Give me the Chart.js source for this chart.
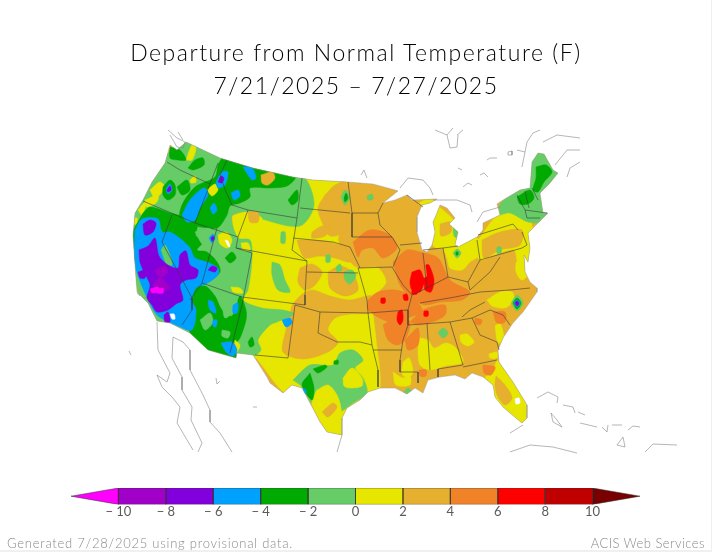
<!DOCTYPE html>
<html>
<head>
<title>Departure from Normal Temperature</title>
<script src="https://cdn.jsdelivr.net/npm/chart.js"></script>
<style>
body { margin: 0; background: #f0f0f0; }
#page { position: relative; width: 711px; height: 550px; background: #fff; overflow: hidden; }
#mapChart, #barChart { position: absolute; left: 0; }
#mapChart { top: 0; }
#barChart { top: 480px; }
.txt { position: absolute; white-space: nowrap; font-family: "Lato", sans-serif; }
#title { left: 0; width: 712px; top: 36px; text-align: center; color: #000; font-size: 23px; line-height: 33px; font-weight: 300; letter-spacing: 1.55px; }
#gen { left: 7px; top: 535px; color: #8a8a8a; font-size: 13px; letter-spacing: 0.75px; font-weight: 300; }
#acis { right: 6px; top: 535px; color: #8a8a8a; font-size: 13px; letter-spacing: 0.45px; font-weight: 300; }
</style>
</head>
<body>
<div id="page">
  <canvas id="mapChart" width="712" height="552"></canvas>
  <canvas id="barChart" width="712" height="40"></canvas>
  <div id="title" class="txt">Departure from Normal Temperature (F)<br>7/21/2025 &#8211; 7/27/2025</div>
  <div id="gen" class="txt">Generated 7/28/2025 using provisional data.</div>
  <div id="acis" class="txt">ACIS Web Services</div>
</div>
<script>
// colour bar
const barEdges = [-12, -10, -8, -6, -4, -2, 0, 2, 4, 6, 8, 10, 12];
const barColors = ['#ff00ff', '#a000c8', '#8200dc', '#00a0ff', '#00aa00', '#66cc66', '#e6e600', '#e6af2d', '#f08228', '#ff0000', '#c00000', '#780000'];

// map shapes, x y pairs
const usOutline = [186,142, 220,158, 253,168, 293,177, 313,180, 348,182, 373,184, 395,190, 398,191, 383,203, 395,200, 407,195, 412,200, 437,199, 430,203, 422,205, 417,217, 417,232, 422,250, 427,252, 432,245, 435,232, 433,222, 437,213, 440,205, 447,208, 455,218, 449,224, 458,232, 455,245, 458,247, 477,237, 483,230, 483,223, 500,215, 497,204, 503,200, 520,190, 530,188, 532,162, 538,153, 544,154, 553,170, 558,173, 550,183, 540,193, 543,213, 548,213, 543,218, 528,233, 530,248, 528,262, 524,255, 525,272, 530,282, 537,288, 537,292, 530,302, 523,312, 513,323, 503,338, 498,350, 499,362, 513,382, 527,405, 527,418, 522,423, 510,413, 503,407, 495,397, 493,385, 483,377, 472,373, 465,379, 455,375, 440,377, 428,380, 423,393, 415,388, 407,394, 395,388, 380,388, 368,392, 360,400, 347,408, 342,418, 342,435, 327,432, 320,422, 310,403, 302,388, 292,385, 283,393, 270,383, 267,377, 253,355, 237,353, 236,358, 208,350, 190,333, 170,323, 157,321, 148,303, 137,292, 135,265, 133,235, 135,213, 143,200, 152,182, 165,163, 170,145, 177,150];

const yellowMain = [232,216, 247,212, 262,219, 294,222, 300,205, 303,178, 346,182, 343,195, 338,205, 345,222, 338,240, 350,262, 358,268, 378,268, 386,282, 378,292, 372,296, 375,330, 380,388, 368,392, 345,415, 342,436, 327,432, 302,388, 285,393, 253,355, 240,353, 240,300];
const yellowNortheast = [478,240, 500,214, 528,218, 533,232, 530,250, 528,265, 518,262, 514,250, 497,254, 480,260, 475,250];
const yellowMichigan = [437,205, 455,222, 458,238, 455,247, 437,248, 433,245, 435,232, 433,222];
const yellowUpper = [418,204, 425,200, 437,200, 437,204, 428,206];
const yellowOhio = [443,248, 457,247, 477,238, 478,256, 470,262, 462,270, 450,268, 447,258];
const yellowFlorida = [497,360, 513,382, 527,405, 527,418, 522,423, 510,413, 503,407, 495,397, 493,385, 485,378, 492,372];
const yellowAlabama = [420,338, 428,340, 434,348, 446,343, 456,348, 463,362, 445,366, 430,370, 420,365, 418,350];
const yellowMississippi = [403,362, 409,358, 413,372, 408,378, 402,374];
const yellowGulf = [393,372, 403,378, 410,376, 410,385, 396,385];
const yellowCarolina = [460,335, 467,334, 474,342, 468,346, 461,342];
const yellowCoast = [495,326, 500,323, 504,340, 498,343];
const yellowVirginia = [487,300, 500,292, 512,292, 514,300, 505,308, 492,306];
const yellowDelmarva = [516,262, 526,258, 530,272, 522,280, 516,272];
const yellowGeorgia = [489,354, 497,352, 497,358, 490,358];
const orangeDakota = [325,195, 335,185, 346,182, 346,230, 330,236, 322,222, 318,208];
const orangeSD = [312,232, 322,226, 330,228, 325,236, 312,238];
const orangeNE = [297,240, 312,240, 330,242, 348,250, 350,262, 335,258, 320,256, 305,258, 300,250];
const orangeKS1 = [300,268, 312,264, 322,272, 315,285, 305,290, 298,282];
const orangeKS2 = [328,272, 340,266, 352,272, 358,290, 345,296, 330,288];
const orangePlains = [292,305, 300,296, 312,290, 330,296, 350,300, 372,296, 372,312, 350,314, 335,318, 328,330, 338,342, 328,352, 303,359, 283,352, 286,330];
const orangeNY = [482,240, 500,232, 522,230, 520,245, 500,250, 484,258];
const orangeFL = [496,376, 505,385, 512,398, 505,405, 497,395, 495,385];
const orangeMI = [440,224, 450,222, 451,232, 441,236];

const darkIowa = [353,242, 370,230, 390,235, 397,248, 383,258, 373,248, 362,250, 358,257];
const darkIllinois = [393,262, 407,250, 420,252, 438,258, 450,280, 470,292, 462,300, 440,302, 425,305, 412,298, 400,285];
const darkMissouri = [368,300, 378,292, 395,290, 410,295, 422,310, 408,318, 390,322, 368,310];
const darkArkansas = [383,325, 400,315, 410,322, 405,340, 397,345, 388,340];
const darkTennessee = [410,322, 423,310, 445,305, 445,315, 432,322, 418,325];
const darkMississippi = [405,340, 418,328, 418,345, 408,350];
const darkCarolina = [493,312, 505,312, 505,322, 497,323];
const darkGeorgia = [483,365, 495,367, 491,375, 484,373];
const darkSC = [475,318, 482,320, 480,325, 475,323];
const darkAlabama = [419,370, 426,370, 426,376, 420,376];

const redLeft = [412,272, 420,270, 424,278, 427,276, 426,265, 429,265, 434,280, 431,292, 425,290, 424,284, 420,292, 412,290, 410,282];
const redArkansas = [398,312, 402,310, 403,320, 400,325, 397,320];
const redDot1 = [403,295, 407,294, 408,300, 404,300];
const redDot2 = [381,298, 385,298, 385,303, 381,303];
const redDot3 = [424,311, 428,311, 428,316, 424,316];
const redDot4 = [412,290, 417,290, 417,294, 412,294];

const lgWest = [160,160, 186,142, 230,158, 270,172, 303,176, 314,205, 300,226, 262,219, 247,212, 232,216, 238,238, 250,240, 252,258, 248,290, 243,300, 262,308, 283,310, 294,314, 277,322, 270,325, 258,340, 261,350, 253,356, 240,354, 200,345, 150,320, 130,240, 140,200];
const lgColorado = [272,262, 280,265, 285,280, 290,292, 278,290, 272,275];
const lgNortheast = [500,215, 500,204, 520,190, 530,186, 530,160, 538,152, 546,154, 560,175, 550,186, 540,195, 550,215, 543,222, 528,222, 510,213];
const lgTexas = [293,380, 310,365, 333,365, 340,353, 353,350, 363,360, 355,368, 363,378, 367,393, 353,403, 340,412, 340,407, 333,393, 317,390, 312,403, 302,387];
const lgMichigan = [453,225, 457,228, 458,238, 454,236];
const lgOhio = [453,253, 457,249, 461,253, 457,258];
const lgPenn = [497,247, 501,247, 501,253, 497,253];
const lgMissouri = [344,272, 352,270, 356,276, 350,284, 345,280];
const lgDakota = [341,197, 345,190, 350,197, 345,205];
const lgWisc = [367,196, 372,194, 373,199, 368,200];
const lgGulf = [403,393, 408,388, 413,393, 408,396];
const lgAlabama = [438,333, 443,328, 448,333, 443,338];
const lgKansas = [336,267, 340,264, 342,270, 337,272];
const lgNebraska = [326,255, 330,255, 330,262, 326,262];
const lgWyoming = [281,232, 285,232, 285,243, 281,243];
const lgArizona1 = [217,293, 232,293, 237,300, 235,310, 225,318, 222,305];
const lgArizona2 = [200,320, 210,313, 213,322, 205,330];
const lgArizona3 = [222,330, 230,332, 228,338, 222,336];
const lgNevada = [161,250, 165,245, 170,255, 172,265, 167,265];
const lgOregon = [153,230, 160,229, 162,234, 155,235];
const lgUtah = [195,232, 210,228, 218,238, 216,248, 204,246];
const lgNC = [511,303, 517,295, 523,303, 517,311];

const yellowNW1 = [186,160, 192,145, 196,148, 192,160];
const yellowNW2 = [150,190, 160,182, 165,188, 155,198];
const yellowNW3 = [145,200, 158,195, 157,202, 147,207];
const yellowNW4 = [138,210, 145,202, 146,205, 142,215];
const yellowNW5 = [133,218, 137,218, 137,224, 134,224];
const yellowCal = [133,260, 138,258, 138,266, 134,266];
const yellowIdaho = [207,190, 215,184, 218,190, 212,196];
const yellowWash = [190,180, 195,176, 196,182, 191,183];
const yellowUtah = [218,235, 226,232, 232,240, 228,248, 220,244];
const yellowWyo = [241,243, 248,243, 250,250, 243,250];
const yellowAZ = [235,340, 240,345, 237,352, 234,350];
const yellowUT2 = [231,287, 240,288, 243,293, 233,292];
const yellowMT = [233,216, 247,212, 262,218, 258,226, 246,224, 246,235, 238,236];
const yellowMontanaTop = [258,176, 266,170, 276,172, 277,182, 264,187];
const yellowTexasNotch = [343,378, 352,368, 362,378, 362,386, 350,388, 344,386];
const yellowHill = [317,390, 328,385, 337,395, 341,408, 342,436, 330,432, 320,420, 312,403];
const orangeMT = [248,212, 258,212, 258,222, 250,222];
const orangeMT2 = [261,175, 272,172, 275,178, 268,185, 262,183];
const orangeTX = [322,412, 333,403, 337,407, 328,417];

const greenMontana = [222,158, 253,167, 295,177, 287,186, 270,188, 250,188, 250,197, 240,203, 230,206, 227,215, 217,228, 195,226, 180,222, 182,205, 195,187, 215,177, 218,165];
const greenDakota = [288,200, 297,190, 298,200, 292,205];
const greenWash = [170,147, 180,150, 186,160, 178,160, 170,158];
const greenWash2 = [188,168, 195,160, 203,158, 204,165, 193,170];
const greenCascade = [163,187, 170,180, 175,185, 175,195, 168,200, 163,195];
const greenWash3 = [177,187, 187,180, 190,190, 182,195];
const greenOregon = [143,213, 150,207, 170,213, 187,218, 197,225, 196,236, 205,240, 197,250, 207,252, 217,262, 220,272, 208,282, 196,288, 190,300, 170,300, 135,260, 132,235];
const greenArizona = [190,288, 205,286, 215,296, 222,310, 232,316, 240,296, 246,310, 246,320, 240,338, 235,345, 236,358, 208,350, 190,333];
const greenRing = [207,238, 212,232, 217,236, 216,243, 210,245];
const greenUtah = [225,258, 232,252, 236,258, 230,263];
const greenNM = [248,342, 252,337, 254,345, 250,347];
const greenPecos = [310,373, 302,385, 312,400, 314,388];
const greenTX2 = [313,369, 325,365, 327,367, 318,373];
const greenTX3 = [334,361, 338,360, 338,364, 334,364];
const greenMaine = [536,167, 546,165, 552,172, 544,182, 538,192, 533,190, 536,178];
const greenVermont = [517,197, 530,190, 534,198, 528,204, 520,204];
const greenDakota2 = [344,198, 346,193, 348,198, 345,202];
const greenOhio = [456,252, 458,252, 458,255, 456,255];
const greenNC = [513,303, 517,298, 521,303, 517,309];

const blueIdaho = [182,215, 190,200, 200,190, 205,188, 208,195, 200,208, 195,220, 187,222];
const blueRockies1 = [216,182, 222,172, 228,172, 225,185, 218,188];
const blueRockies2 = [243,167, 252,168, 256,178, 252,180, 246,172];
const blueRockies3 = [231,193, 238,190, 240,196, 234,200];
const blueRockies4 = [210,208, 214,203, 217,210, 213,214];
const blueCascade = [166,189, 170,184, 172,190, 168,194];
const blueSouthwest = [135,230, 142,219, 158,219, 162,232, 170,232, 182,240, 190,248, 195,258, 207,262, 218,268, 218,275, 206,284, 196,288, 192,300, 196,310, 192,330, 178,326, 165,320, 157,315, 148,300, 135,265];
const blueUtah = [209,238, 213,234, 215,238, 212,243];
const blueAZ1 = [208,300, 213,302, 216,313, 210,310];
const blueAZ2 = [233,305, 238,303, 237,313, 233,313];
const blueAZ3 = [213,320, 217,320, 216,327, 213,326];
const blueAZ4 = [221,343, 232,342, 237,350, 233,356, 226,352];
const blueNM = [282,320, 290,318, 292,323, 286,327];
const blueTX = [303,388, 306,390, 306,394, 303,392];
const blueNC = [514,303, 517,300, 520,303, 517,307];

const purpleOregon = [143,224, 150,220, 156,223, 153,232, 145,235];
const purpleMain = [139,250, 148,246, 155,238, 159,256, 168,265, 178,268, 180,255, 186,251, 190,265, 198,270, 196,278, 186,280, 180,285, 183,300, 176,304, 168,310, 157,312, 152,305, 147,298, 150,285, 144,272, 140,262];
const purpleCoast = [138,272, 146,270, 145,278, 140,278];
const purpleBorder = [164,315, 168,312, 170,322, 165,322];
const purpleSpot1 = [208,270, 212,266, 217,268, 215,272];
const purpleSpot2 = [218,182, 221,176, 224,178, 222,183];
const purpleSpot3 = [167,190, 170,186, 171,190, 168,192];
const purpleSpot4 = [211,238, 213,236, 214,239, 212,241];
const purpleNC = [515,303, 517,301, 519,303, 517,306];
const violetA = [155,270, 165,266, 168,272, 160,278];
const violetB = [152,285, 160,278, 170,288, 160,292];
const magentaA = [150,289, 158,287, 160,291, 152,293];
const magentaB = [156,290, 163,288, 163,293, 157,293];

const whiteOkeechobee = [515,399, 519,398, 520,403, 516,404];
const whiteSaltLake = [225,240, 228,241, 230,247, 228,246];
const whiteBorder = [170,314, 174,314, 175,319, 172,319];

// state lines
const stateLines = [
  [167,162, 180,170, 210,184],
  [143,201, 195,223],
  [218,163, 210,184, 195,223, 238,237],
  [227,160, 220,175, 226,192, 232,205, 248,210, 238,237, 236,248, 252,253],
  [248,210, 297,218],
  [302,178, 297,218, 292,250, 307,261, 305,295, 305,305],
  [236,248, 307,261],
  [252,253, 242,305, 230,353],
  [242,297, 305,305],
  [217,228, 202,283, 190,300],
  [202,283, 242,297],
  [172,215, 162,242, 192,298, 192,310, 182,325],
  [295,305, 320,312, 318,333, 337,342, 360,342, 372,345],
  [295,305, 288,358, 255,355],
  [300,208, 350,213],
  [293,238, 333,242, 350,247, 360,268],
  [348,182, 352,213, 352,237, 392,237, 400,250, 393,267],
  [352,213, 378,213, 380,225, 392,237],
  [378,213, 383,203],
  [358,268, 392,267, 403,285, 412,295, 408,310, 408,325, 403,340, 400,360, 400,372, 418,372, 418,383],
  [307,272, 358,273],
  [358,268, 367,300, 368,313, 372,345, 378,370, 378,387],
  [320,312, 368,313, 408,310],
  [373,350, 402,350],
  [408,325, 450,322, 472,318],
  [420,303, 455,297, 480,292, 510,290, 530,288],
  [462,317, 470,310, 485,302],
  [472,318, 490,310, 503,315, 510,325],
  [472,318, 480,335, 497,342, 499,350],
  [450,322, 463,365],
  [427,323, 430,370],
  [463,367, 497,360],
  [438,369, 438,377],
  [438,369, 463,365],
  [400,245, 422,243],
  [423,253, 427,288],
  [423,250, 443,248, 458,246],
  [443,248, 448,277, 427,288, 412,295],
  [448,277, 468,282, 480,260, 477,240],
  [480,260, 522,248],
  [468,282, 470,290, 490,272, 500,257],
  [478,235, 513,224, 518,230],
  [517,195, 525,210, 527,218],
  [525,210, 547,213],
  [527,218, 540,218],
  [532,188, 538,200],
  [525,191, 529,208],
  [522,232, 527,245, 522,248],
  [407,195, 423,207]
];

// coasts outside the country
const coastLines = [
  [157,322, 158,350, 170,373, 167,382, 157,375, 162,387, 172,397, 180,407, 177,423, 193,450],
  [173,337, 172,358, 182,377, 182,390, 192,407, 191,420, 202,443, 198,452],
  [173,337, 183,342, 190,350, 190,370, 202,393, 210,410, 210,422, 220,433, 232,452],
  [342,435, 337,452],
  [129,351, 131,355],
  [216,378, 217,384, 220,381],
  [253,407, 257,407],
  [137,293, 140,296], [145,297, 148,300],
  [168,130, 177,138, 185,142, 183,148, 177,147, 170,135],
  [178,132, 183,140],
  [435,130, 447,135, 453,128],
  [447,135, 450,148, 457,147, 458,135],
  [463,130, 457,135],
  [487,160, 490,158, 497,158],
  [480,175, 484,173, 488,177],
  [463,187, 468,183, 472,185],
  [458,168, 462,170],
  [400,188, 408,178, 423,180, 430,188, 433,195],
  [361,175, 364,170, 367,178],
  [433,200, 457,200, 470,205, 472,212],
  [477,222, 483,212, 500,207],
  [522,167, 527,142, 533,133, 540,130],
  [517,150, 525,152],
  [543,142, 557,135, 580,138],
  [555,165, 567,150, 580,150],
  [567,177, 570,168, 580,162],
  [508,152, 512,151, 512,155, 508,155, 508,152],
  [537,398, 548,392, 558,397, 557,403],
  [563,405, 573,407, 575,413],
  [578,412, 585,415],
  [551,413, 553,422, 562,427, 557,420, 551,413],
  [580,423, 597,427],
  [602,427, 607,432, 608,425],
  [612,425, 622,425],
  [628,430, 633,426, 640,427],
  [617,445, 623,437, 625,447, 617,445],
  [510,452, 530,445, 553,447, 577,453],
  [645,452, 653,444, 677,445],
  [510,433, 523,425]
];

const PALETTE = { magenta: barColors[0], violet: barColors[1], purple: barColors[2], blue: barColors[3], green: barColors[4], lightGreen: barColors[5], yellow: barColors[6], orange: barColors[7], darkOrange: barColors[8], red: barColors[9] };

// bottom to top
const layers = [
  [PALETTE.orange, [usOutline]],
  [PALETTE.yellow, [yellowMain, yellowNortheast, yellowMichigan, yellowUpper, yellowOhio, yellowFlorida, yellowAlabama, yellowMississippi, yellowGulf, yellowCarolina, yellowCoast, yellowVirginia, yellowDelmarva, yellowGeorgia]],
  [PALETTE.orange, [orangeDakota, orangeSD, orangeNE, orangeKS1, orangeKS2, orangePlains, orangeNY, orangeFL, orangeMI]],
  [PALETTE.darkOrange, [darkIowa, darkIllinois, darkMissouri, darkArkansas, darkTennessee, darkMississippi, darkCarolina, darkGeorgia, darkSC, darkAlabama]],
  [PALETTE.red, [redLeft, redArkansas, redDot1, redDot2, redDot3, redDot4]],
  [PALETTE.lightGreen, [lgWest, lgColorado, lgNortheast, lgTexas, lgMichigan, lgOhio, lgPenn, lgMissouri, lgDakota, lgWisc, lgGulf, lgAlabama, lgKansas, lgNebraska, lgWyoming, lgNC]],
  [PALETTE.yellow, [yellowNW1, yellowNW2, yellowNW3, yellowNW4, yellowNW5, yellowCal, yellowMT, yellowMontanaTop, yellowTexasNotch, yellowHill]],
  [PALETTE.green, [greenMontana, greenDakota, greenWash, greenWash2, greenCascade, greenWash3, greenOregon, greenArizona, greenRing, greenUtah, greenNM, greenPecos, greenTX2, greenTX3, greenMaine, greenVermont, greenDakota2, greenOhio, greenNC]],
  [PALETTE.lightGreen, [lgArizona1, lgArizona2, lgArizona3, lgUtah, lgOregon]],
  [PALETTE.yellow, [yellowIdaho, yellowWash, yellowUtah, yellowWyo, yellowAZ, yellowUT2]],
  [PALETTE.orange, [orangeMT, orangeMT2, orangeTX]],
  [PALETTE.blue, [blueSouthwest, blueIdaho, blueRockies1, blueRockies2, blueRockies3, blueRockies4, blueCascade, blueUtah, blueAZ1, blueAZ2, blueAZ3, blueAZ4, blueNM, blueTX, blueNC]],
  [PALETTE.lightGreen, [lgNevada]],
  [PALETTE.purple, [purpleOregon, purpleMain, purpleCoast, purpleBorder, purpleSpot1, purpleSpot2, purpleSpot3, purpleSpot4, purpleNC]],
  [PALETTE.violet, [violetA, violetB]],
  [PALETTE.magenta, [magentaA, magentaB]],
  ['#ffffff', [whiteOkeechobee, whiteSaltLake, whiteBorder]]
];

function toPoints(flat, close) {
  const pts = [];
  for (let i = 0; i < flat.length; i += 2) pts.push({ x: flat[i], y: flat[i + 1] });
  if (close) pts.push({ x: flat[0], y: flat[1] });
  return pts;
}

function fillSet(flat, color, tension) {
  return { data: toPoints(flat, true), showLine: true, fill: 'shape', backgroundColor: color, borderColor: color, borderWidth: 0.5, pointRadius: 0, tension: tension };
}

function lineSet(flat, color, width, close) {
  return { data: toPoints(flat, close), showLine: true, fill: false, borderColor: color, borderWidth: width, pointRadius: 0, tension: 0 };
}

// chart.js paints the first dataset last, so lines go first and fills go reversed
const lineSets = [];
stateLines.forEach(l => lineSets.push(lineSet(l, '#3a3a3a', 0.6, false)));
coastLines.forEach(l => lineSets.push(lineSet(l, '#858585', 0.6, false)));
lineSets.push(lineSet(usOutline, '#9a9a9a', 0.5, true));

const fillSets = [];
layers.forEach(layer => {
  layer[1].forEach(shape => {
    fillSets.unshift(fillSet(shape, layer[0], shape === usOutline ? 0 : 0.3));
  });
});

const firstFill = lineSets.length;

// keeps the colour blobs inside the country outline
const clipToUS = {
  id: 'clipToUS',
  beforeDatasetsDraw(chart) {
    const ctx = chart.ctx, sx = chart.scales.x, sy = chart.scales.y;
    ctx.save();
    ctx.beginPath();
    toPoints(usOutline, true).forEach((p, i) => {
      if (i === 0) ctx.moveTo(sx.getPixelForValue(p.x), sy.getPixelForValue(p.y));
      else ctx.lineTo(sx.getPixelForValue(p.x), sy.getPixelForValue(p.y));
    });
    ctx.clip();
  },
  afterDatasetDraw(chart, args) {
    if (args.index === firstFill) chart.ctx.restore();
  }
};

new Chart(document.getElementById('mapChart'), {
  type: 'scatter',
  data: { datasets: lineSets.concat(fillSets) },
  options: {
    responsive: false,
    animation: false,
    events: [],
    layout: { padding: 0 },
    plugins: { legend: { display: false }, tooltip: { enabled: false } },
    scales: {
      x: { type: 'linear', display: false, min: 0, max: 712 },
      y: { type: 'linear', display: false, min: 0, max: 552, reverse: true }
    }
  },
  plugins: [clipToUS]
});

// colour bar, one shape per band, triangles at both ends
const barSets = barColors.map((color, i) => {
  const a = barEdges[i], b = barEdges[i + 1];
  let pts;
  if (i === 0) pts = [{ x: a, y: 0.5 }, { x: b, y: 1 }, { x: b, y: 0 }, { x: a, y: 0.5 }];
  else if (i === barColors.length - 1) pts = [{ x: a, y: 0 }, { x: a, y: 1 }, { x: b, y: 0.5 }, { x: a, y: 0 }];
  else pts = [{ x: a, y: 0 }, { x: a, y: 1 }, { x: b, y: 1 }, { x: b, y: 0 }, { x: a, y: 0 }];
  return { data: pts, showLine: true, fill: 'shape', backgroundColor: color, borderColor: 'rgba(50,50,50,0.65)', borderWidth: 0.8, pointRadius: 0, tension: 0 };
});

new Chart(document.getElementById('barChart'), {
  type: 'scatter',
  data: { datasets: barSets },
  options: {
    responsive: false,
    animation: false,
    events: [],
    layout: { padding: { left: 71, right: 72, top: 8, bottom: 0 } },
    plugins: { legend: { display: false }, tooltip: { enabled: false } },
    scales: {
      y: { type: 'linear', display: false, min: 0, max: 1 },
      x: {
        type: 'linear', min: -12, max: 12,
        border: { display: false },
        grid: { display: false, drawTicks: false },
        ticks: {
          stepSize: 2, autoSkip: false, maxRotation: 0, padding: 0, color: '#5a5a5a',
          font: { family: 'Lato', size: 13, weight: '400' },
          callback: v => Math.abs(v) > 10 ? '' : (v < 0 ? '\u2212 ' + (-v) : String(v))
        }
      }
    }
  }
});
</script>
</body>
</html>
